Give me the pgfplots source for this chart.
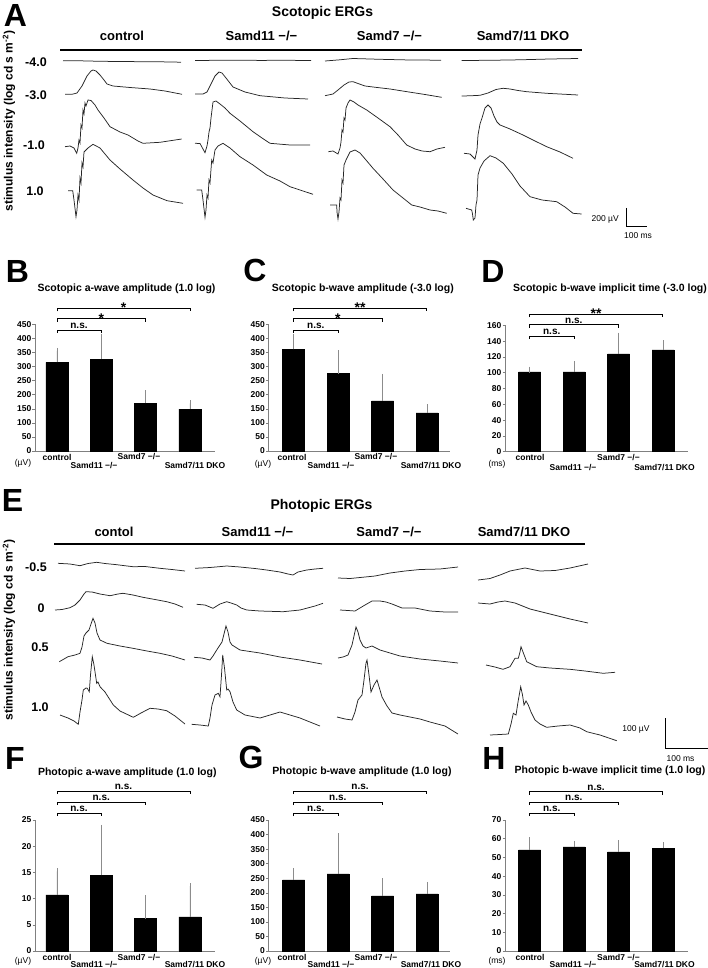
\documentclass[border=0pt]{standalone}
\usepackage{pgfplots}
\pgfplotsset{compat=1.18}
\usepackage{fontspec}
\setmainfont{Liberation Sans}
\newcommand{\fs}[1]{\fontsize{#1}{#1}\selectfont}
\pgfplotsset{
  barax/.style={scale only axis, anchor=south west, clip=false,
    axis x line*=bottom, axis y line*=left, axis line style={black!50, line width=0.6pt},
    enlargelimits=false, ymin=0, xtick=\empty,
    tick align=outside, major tick length=2.5pt, ytick style={black!50, line width=0.5pt},
    /pgf/number format/assume math mode=true, /pgf/number format/1000 sep={},
    yticklabel style={font=\bfseries\fs{8.5}, inner sep=1pt}},
  bars/.style={ybar, bar width=22pt, fill=black, draw=black,
    error bars/.cd, y dir=plus, y explicit,
    error bar style={black!45, line width=0.5pt},
    error mark options={black!45, mark size=3pt, line width=0.5pt}},
  trace/.style={black!85, line width=0.75pt, mark=none}
}
\newcommand{\brkns}[3]{%
  \draw[line width=0.6pt] (axis cs:#1,#3+3) -- (axis cs:#1,#3) -- (axis cs:#2,#3) -- (axis cs:#2,#3+3);
  \node[anchor=south, inner sep=0pt, font=\bfseries\fs{10}] at (axis cs:{(#1+#2)/2},#3-1) {n.s.};}
\newcommand{\brkst}[4]{%
  \draw[line width=0.6pt] (axis cs:#1,#3+3) -- (axis cs:#1,#3) -- (axis cs:#2,#3) -- (axis cs:#2,#3+3);
  \node[anchor=base, inner sep=0pt, font=\bfseries\fs{14}] at (axis cs:{(#1+#2)/2},#3+4.5) {#4};}
\begin{document}
\begin{tikzpicture}[x=1pt,y=1pt]
\useasboundingbox (0,0) rectangle (708,968);
% ---------------- master axis in pixel coordinates ----------------
\begin{axis}[at={(0pt,0pt)}, anchor=south west, scale only axis, width=708pt, height=968pt,
  xmin=0, xmax=708, ymin=0, ymax=968, y dir=reverse, hide axis, clip=false]
% ===== Panel A traces =====
% -4.0
\addplot[trace] coordinates {(63,60.7)(80,60.8)(100,61.3)(130,61.6)(160,61.8)(181,62.2)};
\addplot[trace] coordinates {(195,60.5)(230,60.2)(260,60.4)(290,60.3)(311,60.6)};
\addplot[trace] coordinates {(325,61)(340,59.8)(353,58.5)(380,59.3)(410,60)(441,60.2)};
\addplot[trace] coordinates {(461.7,60.5)(490,60.3)(520,59.8)(550,59)(578,58.5)};
% -3.0
\addplot[trace] coordinates {(65,94.3)(72,94.3)(77,93)(82,86)(87,76)(91,71)(93,70)(96,71)(100,75)(104,80)(107,84)(113,86)(130,87.5)(150,89)(165,91)(182,94.3)};
\addplot[trace] coordinates {(195,94)(203,94)(207,92)(211,84)(215,76)(219,72)(222,73)(226,78)(233,87)(245,92)(260,95.7)(285,98)(308,99)};
\addplot[trace] coordinates {(325,95.7)(333,94)(338,90)(344,85)(349,82)(353,81.7)(358,83.5)(365,86)(373,87)(390,89)(407,91.7)(425,94.5)(441.7,97.3)};
\addplot[trace] coordinates {(461.7,96)(470,95.8)(480,95.3)(488,93)(496,89.5)(503,88.3)(510,89)(518,90.5)(526.7,91.7)(546.7,93.3)(578,95)};
% -1.0
\addplot[trace] coordinates {(65,146.7)(70,146)(74,148)(76.7,153.3)(78,148)(79,140)(80,143)(81,125)(82,128)(83,110)(84,114)(85,103)(86,106)(88,100)(91,100.5)(95,105)(98,110)(104,118)(110,126.7)(120,132)(128,135)(133,138)(138,141)(143,143.3)(160,142.3)(181.7,139)};
\addplot[trace] coordinates {(195,143.3)(200,143.5)(205,152.7)(207,146)(208,140)(209,132)(210,128)(211,118)(212,110)(213,102)(216,101)(220,104)(225,108)(230,113.3)(240,121)(253,131.7)(262,138)(270,143.3)(290,145)(310,145)};
\addplot[trace] coordinates {(328.3,151.7)(333,151)(338,154)(340,148)(341,142)(342,130)(343,132)(344,118)(345,120)(346,108)(348,103)(350,100)(354,102)(358,105)(366.7,110)(378,118)(390,126.7)(398,135)(406.7,145)(415,149)(422,151)(430,151.7)(437,149)(445,147.3)};
\addplot[trace] coordinates {(464,153.3)(470,154)(475,159)(477,150)(478,135)(480,124)(482,118)(485,108)(488,105)(491,108)(494,116)(497,122)(500,125)(510,129)(523,135)(535,141)(546.7,146.7)(560,152)(573,158.3)};
% 1.0
\addplot[trace] coordinates {(68,190.7)(72.7,190.7)(74,200)(76,216.7)(77,210)(78,195)(79,200)(80,178)(81,183)(82,163)(83,167)(84,152)(86,150)(88,148)(93,144.3)(100,148)(110,160)(120,169)(133,180)(143,188)(153,195)(167,200.7)(183,203.3)};
\addplot[trace] coordinates {(196.7,190)(201.7,190)(203,200)(205,217.3)(206,210)(207,195)(208,198)(209,180)(210,183)(211.7,160)(213,163)(215,150)(218,146)(223,143.3)(230,148)(240,156.7)(253,165)(266.7,175)(280,181)(290,186.7)(300,190)(313,194.3)};
\addplot[trace] coordinates {(330,205)(336.7,205)(337,212)(338,219)(339,212)(340,198)(341,200)(342,180)(343,183)(344,165)(346,160)(350,152)(355,150)(360,153)(366,160)(373,168.3)(383,179)(393,190)(403,198)(411.7,205)(420,207)(430,210)(438,211)(446.7,213.3)};
\addplot[trace] coordinates {(466,208.3)(471.7,210)(472.5,214)(473.3,220)(475,218)(476,205)(477,200)(478,175)(480,168)(484,161)(490,155.7)(496,158)(503.3,163.3)(512,174)(520,186)(530,196.7)(542,200)(556.7,201.7)(565,207)(573,213.3)(581.7,214)};
% scale bar A
\addplot[black, line width=0.7pt] coordinates {(626,208)(626,226)(647,226)};
\node[font=\fs{8.5}, anchor=east, inner sep=0pt] at (axis cs:619,219) {200 µV};
\node[font=\fs{8.5}, inner sep=0pt] at (axis cs:638,236) {100 ms};
% ===== Panel E traces =====
% -0.5
\addplot[trace] coordinates {(58,563.3)(70,564)(80,565.7)(88,563.5)(96.7,562.3)(105,563.5)(115,564.5)(133,566.7)(145,566.5)(160,568.3)(172,569.5)(185,571)};
\addplot[trace] coordinates {(195,568.3)(210,567.5)(226.7,566)(240,567)(255,568.5)(266.7,570)(280,572)(288,574)(293,575)(298,572)(306.7,570)(315,569)(323,568.3)};
\addplot[trace] coordinates {(338,578)(350,578.5)(360,577.5)(375,576)(390,573)(405,571)(420,569.5)(440,569)(458,567)};
\addplot[trace] coordinates {(478,580)(490,578.5)(500,575)(510,571)(525,568)(540,571)(555,570.5)(570,568)(588,564)};
% 0
\addplot[trace] coordinates {(55,610)(62,609.5)(70,607.7)(75,605)(80,600)(84,594)(86,591.7)(92,592)(100,594)(110,595.7)(118,594)(123,593.3)(133,595)(143,597.3)(155,599.5)(166.7,601.7)(175,604)(183,607.3)};
\addplot[trace] coordinates {(196.7,604.3)(205,605)(213,608.3)(220,604)(226.7,601.7)(231,603)(236.7,605)(241,608)(246.7,610)(260,611)(283,611.7)(300,610)(315,606)(323,603.3)};
\addplot[trace] coordinates {(340,610)(348,610.5)(355,611)(360,608)(365,605)(372,601)(380,601)(386,602)(392,604)(402,608)(415,608)(430,611)(445,612)(458,612)};
\addplot[trace] coordinates {(478,603)(490,604)(498,602)(505,601)(515,603)(530,609)(550,614)(570,619)(588,623)};
% 0.5
\addplot[trace] coordinates {(59.3,661.7)(64,659)(68,656.7)(75,655)(80,653.3)(82,647)(84,636)(86,633)(89,630)(91,624)(93,618.3)(95,623)(97,633)(100,640)(107,643.3)(120,646)(133,648.3)(147,651)(160,653.3)(172,656)(185,660)};
\addplot[trace] coordinates {(194,657.3)(202,658)(210,660)(213,656)(216.7,650)(220,645)(222,642)(224,634)(226,626)(228,632)(230,642)(232,645)(240,650)(260,653)(280,657)(300,660)(322,664)};
\addplot[trace] coordinates {(338,658)(343,657)(348,655)(350,650)(352,645)(354,636)(356,627)(358,632)(360,640)(363,646)(366,648)(372,646)(380,650)(400,656)(420,659)(440,661)(458,663)};
\addplot[trace] coordinates {(486,665)(495,667)(503,669.3)(510,666.7)(515,658.3)(518.3,658.3)(520,652)(521,646.7)(523,652)(526.7,661.7)(536.7,666.7)(550,668)(570,669.3)(585,671)(603.3,673.3)(615,672.3)};
% 1.0
\addplot[trace] coordinates {(60,715)(68,718)(74,721)(78.3,724.3)(80,712)(82,700)(83.3,690)(86,688)(87.3,688.3)(89.3,691.7)(90.5,675)(92.3,656.7)(94,665)(96.7,683.3)(98,682)(100,686.7)(105,692)(113.3,705)(120,711)(133.3,717.3)(141,713)(150,708.3)(158,709)(166.7,710.7)(175,716)(185,724)};
\addplot[trace] coordinates {(191.7,724.3)(200,725)(208.3,726)(210,718)(212,705)(215,695)(218.3,693.3)(220,696.7)(221.5,675)(222.7,655)(224.5,668)(226.7,690)(228,689)(230,691.7)(233,702)(236.7,710)(245,715)(260,718)(270,715)(280,712)(290,715)(300,718)(310,722)(320,726)};
\addplot[trace] coordinates {(337,717)(345,719)(352,720)(355,712)(358,700)(362,695)(364,680)(366,663)(367,660)(369,675)(371,692)(374,685)(377,680)(380,690)(382,697)(387,706)(392,713)(400,715)(410,717)(420,719)(430,722)(445,726)(458,734)};
\addplot[trace] coordinates {(490,735)(500,734.5)(508.3,734)(511,724)(513.3,713.3)(516,715)(518,702)(520.7,686.7)(522.5,695)(524,705)(526,701)(528.3,705)(531,712)(535,720)(540,724)(546.7,727.3)(558,726)(570,725)(580,728)(586.7,731.7)(600,735)(616.7,740.7)};
% scale bar E
\addplot[black, line width=0.7pt] coordinates {(665,718)(665,748.3)(710,748.3)};
\node[font=\fs{8.5}, inner sep=0pt] at (axis cs:636,729.5) {100 µV};
\node[font=\fs{8.5}, inner sep=0pt] at (axis cs:680.5,758.5) {100 ms};
% ===== texts =====
\node[font=\bfseries\fs{32}, inner sep=0pt] at (axis cs:15.5,15.5) {A};
\node[font=\bfseries\fs{32}, inner sep=0pt] at (axis cs:17.5,271) {B};
\node[font=\bfseries\fs{32}, inner sep=0pt] at (axis cs:255,270) {C};
\node[font=\bfseries\fs{32}, inner sep=0pt] at (axis cs:493,271.5) {D};
\node[font=\bfseries\fs{32}, inner sep=0pt] at (axis cs:12.5,500.5) {E};
\node[font=\bfseries\fs{32}, inner sep=0pt] at (axis cs:15,758) {F};
\node[font=\bfseries\fs{32}, inner sep=0pt] at (axis cs:251,757) {G};
\node[font=\bfseries\fs{32}, inner sep=0pt] at (axis cs:494,758) {H};
\node[font=\bfseries\fs{14}] at (axis cs:322.5,13) {Scotopic ERGs};
\node[font=\bfseries\fs{14}] at (axis cs:321.5,506) {Photopic ERGs};
\node[font=\bfseries\fs{13}] at (axis cs:122,36) {control};
\node[font=\bfseries\fs{13}] at (axis cs:261.5,36) {Samd11 −/−};
\node[font=\bfseries\fs{13}] at (axis cs:389.5,36) {Samd7 −/−};
\node[font=\bfseries\fs{13}] at (axis cs:523,36) {Samd7/11 DKO};
\draw[line width=2pt] (axis cs:60,50) -- (axis cs:582,50);
\node[font=\bfseries\fs{13}] at (axis cs:114,532) {contol};
\node[font=\bfseries\fs{13}] at (axis cs:257.5,532) {Samd11 −/−};
\node[font=\bfseries\fs{13}] at (axis cs:389,532) {Samd7 −/−};
\node[font=\bfseries\fs{13}] at (axis cs:524,532) {Samd7/11 DKO};
\draw[line width=2pt] (axis cs:54,544) -- (axis cs:585,544);
\node[font=\bfseries\fs{12.5}] at (axis cs:36,62) {-4.0};
\node[font=\bfseries\fs{12.5}] at (axis cs:36,95) {-3.0};
\node[font=\bfseries\fs{12.5}] at (axis cs:34,145) {-1.0};
\node[font=\bfseries\fs{12.5}] at (axis cs:35,191) {1.0};
\node[font=\bfseries\fs{12.5}] at (axis cs:36,567) {-0.5};
\node[font=\bfseries\fs{12.5}] at (axis cs:41,608) {0};
\node[font=\bfseries\fs{12.5}] at (axis cs:40,647) {0.5};
\node[font=\bfseries\fs{12.5}] at (axis cs:40,707) {1.0};
\node[font=\bfseries\fs{12}, rotate=90] at (axis cs:9,121) {stimulus intensity (log cd s m\textsuperscript{-2})};
\node[font=\bfseries\fs{12}, rotate=90] at (axis cs:9,630) {stimulus intensity (log cd s m\textsuperscript{-2})};
% bar chart titles
\node[font=\bfseries\fs{10.5}] at (axis cs:126.5,289) {Scotopic a-wave amplitude (1.0 log)};
\node[font=\bfseries\fs{10.5}] at (axis cs:362.8,289) {Scotopic b-wave amplitude (-3.0 log)};
\node[font=\bfseries\fs{10.5}] at (axis cs:610,289) {Scotopic b-wave implicit time (-3.0 log)};
\node[font=\bfseries\fs{10.5}] at (axis cs:127.3,773) {Photopic a-wave amplitude (1.0 log)};
\node[font=\bfseries\fs{10.5}] at (axis cs:362,772) {Photopic b-wave amplitude (1.0 log)};
\node[font=\bfseries\fs{10.5}] at (axis cs:610,771) {Photopic b-wave implicit time (1.0 log)};
% brackets
\brkst{57}{190}{308.3}{*}
\brkst{57}{145.5}{318.7}{*}
\brkns{57}{101}{330}
\brkst{293.5}{426.5}{308.3}{**}
\brkst{293.5}{382}{318.7}{*}
\brkns{293.5}{338}{330}
\brkst{529.5}{662.5}{314.3}{**}
\brkns{529.5}{618}{324.7}
\brkns{529.5}{574}{336}
\brkns{57}{190}{791}
\brkns{57}{145.5}{802}
\brkns{57}{101}{813}
\brkns{293.5}{426.5}{791}
\brkns{293.5}{382}{802}
\brkns{293.5}{338}{813}
\brkns{529.5}{662.5}{791.5}
\brkns{529.5}{618}{802}
\brkns{529.5}{574}{813}
% x category labels
\node[font=\bfseries\fs{8.5}] at (axis cs:57,457) {control};
\node[font=\bfseries\fs{8.5}] at (axis cs:94,466) {Samd11 −/−};
\node[font=\bfseries\fs{8.5}] at (axis cs:139,457) {Samd7 −/−};
\node[font=\bfseries\fs{8.5}] at (axis cs:195,466) {Samd7/11 DKO};
\node[font=\fs{8.5}] at (axis cs:23,463) {(µV)};
\node[font=\bfseries\fs{8.5}] at (axis cs:292,457) {control};
\node[font=\bfseries\fs{8.5}] at (axis cs:331,466) {Samd11 −/−};
\node[font=\bfseries\fs{8.5}] at (axis cs:376,457) {Samd7 −/−};
\node[font=\bfseries\fs{8.5}] at (axis cs:431,466) {Samd7/11 DKO};
\node[font=\fs{8.5}] at (axis cs:263,464) {(µV)};
\node[font=\bfseries\fs{8.5}] at (axis cs:530,457.5) {control};
\node[font=\bfseries\fs{8.5}] at (axis cs:573,467.5) {Samd11 −/−};
\node[font=\bfseries\fs{8.5}] at (axis cs:618.5,457.5) {Samd7 −/−};
\node[font=\bfseries\fs{8.5}] at (axis cs:664.5,467.5) {Samd7/11 DKO};
\node[font=\fs{8.5}] at (axis cs:497,464) {(ms)};
\node[font=\bfseries\fs{8.5}] at (axis cs:57,957) {control};
\node[font=\bfseries\fs{8.5}] at (axis cs:94,964.5) {Samd11 −/−};
\node[font=\bfseries\fs{8.5}] at (axis cs:139,957) {Samd7 −/−};
\node[font=\bfseries\fs{8.5}] at (axis cs:195,964.5) {Samd7/11 DKO};
\node[font=\fs{8.5}] at (axis cs:23,961) {(µV)};
\node[font=\bfseries\fs{8.5}] at (axis cs:292,957) {control};
\node[font=\bfseries\fs{8.5}] at (axis cs:331,964.5) {Samd11 −/−};
\node[font=\bfseries\fs{8.5}] at (axis cs:376,957) {Samd7 −/−};
\node[font=\bfseries\fs{8.5}] at (axis cs:431,964.5) {Samd7/11 DKO};
\node[font=\fs{8.5}] at (axis cs:263,961) {(µV)};
\node[font=\bfseries\fs{8.5}] at (axis cs:530,957) {control};
\node[font=\bfseries\fs{8.5}] at (axis cs:573,964.5) {Samd11 −/−};
\node[font=\bfseries\fs{8.5}] at (axis cs:618.5,957) {Samd7 −/−};
\node[font=\bfseries\fs{8.5}] at (axis cs:664.5,964.5) {Samd7/11 DKO};
\node[font=\fs{8.5}] at (axis cs:497,961) {(ms)};
\end{axis}
% ---------------- B ----------------
\begin{axis}[barax, at={(35pt,517pt)}, width=180pt, height=126.7pt, xmin=-0.496, xmax=3.564, ymax=450, ytick={0,50,...,450}]
\addplot[bars] coordinates {(0,315) +- (0,41) (1,326) +- (0,80) (2,170) +- (0,35) (3,149) +- (0,20)};
\end{axis}
% ---------------- C ----------------
\begin{axis}[barax, at={(268.5pt,517pt)}, width=181.5pt, height=126.7pt, xmin=-0.562, xmax=3.517, ymax=450, ytick={0,50,...,450}]
\addplot[bars] coordinates {(0,361) +- (0,43) (1,275) +- (0,72) (2,178) +- (0,85) (3,135) +- (0,21)};
\end{axis}
% ---------------- D ----------------
\begin{axis}[barax, at={(505pt,516.3pt)}, width=183pt, height=126.4pt, xmin=-0.551, xmax=3.562, ymax=160, ytick={0,20,...,160}]
\addplot[bars] coordinates {(0,101) +- (0,3) (1,101) +- (0,10) (2,123.7) +- (0,23.3) (3,129) +- (0,8)};
\end{axis}
% ---------------- F ----------------
\begin{axis}[barax, at={(35pt,17pt)}, width=180pt, height=131pt, xmin=-0.496, xmax=3.564, ymax=25, ytick={0,5,...,25}]
\addplot[bars] coordinates {(0,10.7) +- (0,4.5) (1,14.5) +- (0,9) (2,6.2) +- (0,3.9) (3,6.5) +- (0,5.9)};
\end{axis}
% ---------------- G ----------------
\begin{axis}[barax, at={(268.5pt,17pt)}, width=181.5pt, height=131pt, xmin=-0.562, xmax=3.517, ymax=450, ytick={0,50,...,450}]
\addplot[bars] coordinates {(0,244) +- (0,31) (1,265) +- (0,130) (2,189) +- (0,51) (3,196) +- (0,31)};
\end{axis}
% ---------------- H ----------------
\begin{axis}[barax, at={(505pt,17pt)}, width=183pt, height=131pt, xmin=-0.551, xmax=3.562, ymax=70, ytick={0,10,...,70}]
\addplot[bars] coordinates {(0,54) +- (0,5.3) (1,55.6) +- (0,1.6) (2,53) +- (0,4.7) (3,55) +- (0,1.6)};
\end{axis}
\end{tikzpicture}
\end{document}
